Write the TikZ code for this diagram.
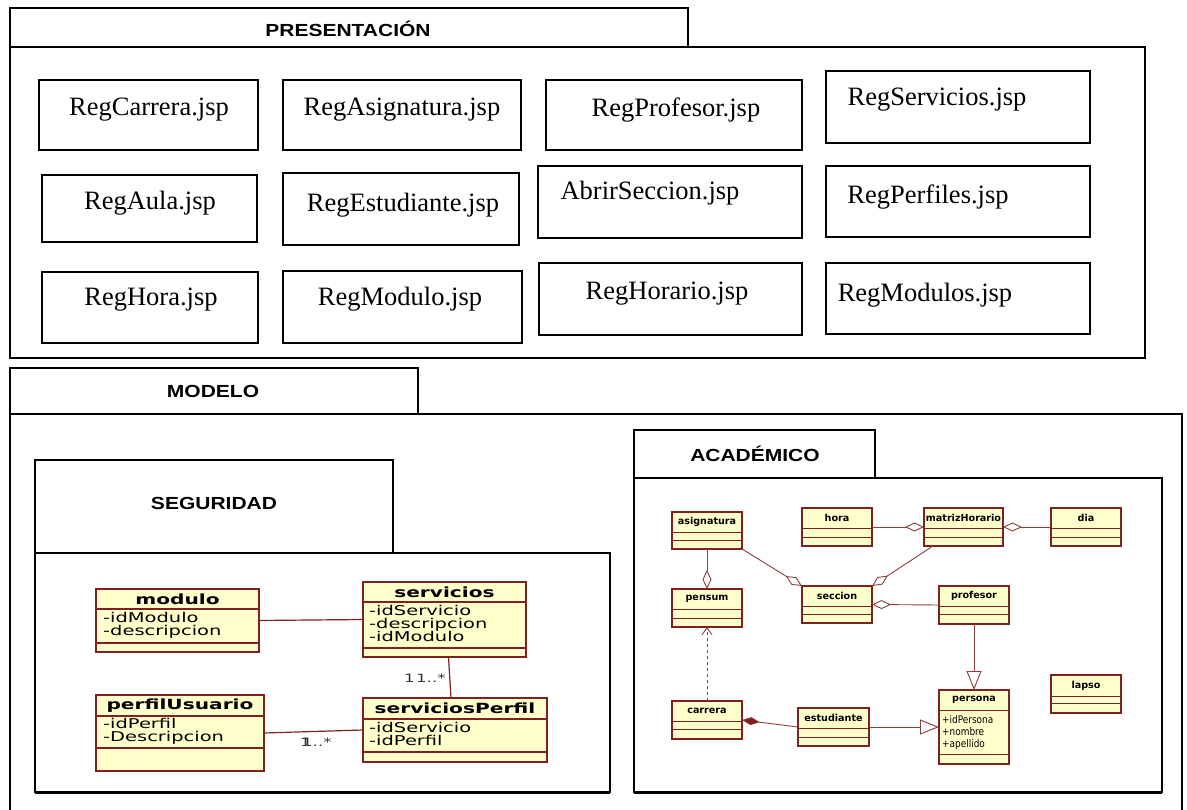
\documentclass[tikz,border=0pt]{standalone}
\usepackage{fontspec}
\setmainfont{Liberation Serif}
\newfontfamily\headfont[FakeStretch=1.2]{Liberation Sans}
\newfontfamily\segfont[FakeStretch=1.44]{DejaVu Sans}
\newfontfamily\acafont{DejaVu Sans}
\newfontfamily\acaattrfont[FakeStretch=0.85]{DejaVu Sans}
\usetikzlibrary{arrows.meta}

\definecolor{umlfill}{RGB}{255,255,204}
\definecolor{umledge}{RGB}{128,32,32}
\definecolor{umlwire}{RGB}{140,62,62}

\tikzset{
  pkgframe/.style={draw=black, line width=1.6pt, inner sep=0pt, outer sep=0pt},
  headtext/.style={font=\headfont\bfseries\fontsize{17.5}{20}\selectfont, anchor=base, inner sep=0pt},
  jspbox/.style={draw=black, line width=1.3pt, inner sep=0pt, outer sep=0pt},
  jsptext/.style={font=\fontsize{26.5}{29}\selectfont, anchor=base, inner sep=0pt},
  segbox/.style={draw=umledge, fill=umlfill, line width=1.6pt, inner sep=0pt, outer sep=0pt},
  segsep/.style={draw=umledge, line width=1.3pt},
  segtitle/.style={font=\segfont\bfseries\fontsize{14}{15}\selectfont, inner sep=0pt},
  segattr/.style={font=\segfont\fontsize{13.5}{14}\selectfont, anchor=base west, inner sep=0pt},
  acabox/.style={draw=umledge, fill=umlfill, line width=1.1pt, inner sep=0pt, outer sep=0pt},
  acasep/.style={draw=umledge, line width=0.9pt},
  acatitle/.style={font=\acafont\bfseries\fontsize{9.6}{10}\selectfont, inner sep=0pt},
  acaattr/.style={font=\acaattrfont\fontsize{10.5}{12}\selectfont, anchor=base west, inner sep=0pt},
  mult/.style={font=\segfont\fontsize{11.5}{12}\selectfont, anchor=base west, inner sep=0pt, text=black!80},
  segwire/.style={draw=umledge, line width=1.2pt},
  wire/.style={draw=umlwire, line width=0.9pt},
  agg/.style={wire, -{Diamond[length=19pt, width=9pt, fill=white]}},
  comp/.style={wire, {Diamond[length=18pt, width=8pt, fill=umledge]}-},
  gen/.style={wire, -{Triangle[length=19pt, width=15pt, fill=white]}},
  dep/.style={wire, dashed, -{Straight Barb[length=7pt, width=10pt]}},
}

% box with its top-left and bottom-right corners given in pixels
\newcommand\pbox[6]{%
  \node[#1, minimum width={#5-#3}, minimum height={#6-#4}] (#2) at ({(#3+#5)/2},{(#4+#6)/2}) {};}

% jsp page: name, corners, text position (centre x, baseline), text
\newcommand\jsp[8]{%
  \pbox{jspbox}{#1}{#2}{#3}{#4}{#5}%
  \node[jsptext] (#1-t) at (#6,#7) {#8};}

% UML class: style prefix, name, corners, the two separators, class name
\newcommand\umlclass[9]{%
  \pbox{#1box}{#2}{#3}{#4}{#5}{#6}%
  \draw[#1sep] (#3,#7) -- (#5,#7) (#3,#8) -- (#5,#8);
  \node[#1title] (#2-n) at ({(#3+#5)/2},{(#4+#7)/2}) {#9};}

\begin{document}
\begin{tikzpicture}[x=1pt, y=-1pt]
\useasboundingbox (0,0) rectangle (1187,810);
\clip (0,0) rectangle (1187,810);

% ---------- presentation layer ----------
\pbox{pkgframe}{presTab}{10}{8}{688}{47}
\pbox{pkgframe}{presFrame}{10}{47}{1145}{358}
\node[headtext] (presLbl) at (348,37) {PRESENTACIÓN};

\jsp{carreraJsp}{39}{80}{258}{150}{149}{116}{RegCarrera.jsp}
\jsp{asignaturaJsp}{283}{80}{521}{150}{402}{116}{RegAsignatura.jsp}
\jsp{profesorJsp}{546}{80}{802}{150}{676}{117}{RegProfesor.jsp}
\jsp{serviciosJsp}{826}{71}{1090}{143}{937}{106}{RegServicios.jsp}
\jsp{aulaJsp}{42}{175}{257}{242}{150}{210}{RegAula.jsp}
\jsp{estudianteJsp}{283}{173}{519}{245}{403}{212}{RegEstudiante.jsp}
\jsp{seccionJsp}{538}{166}{802}{238}{650}{200}{AbrirSeccion.jsp}
\jsp{perfilesJsp}{826}{166}{1090}{237}{928}{204}{RegPerfiles.jsp}
\jsp{horaJsp}{42}{272}{258}{343}{151}{306}{RegHora.jsp}
\jsp{moduloJsp}{283}{271}{522}{343}{400}{306}{RegModulo.jsp}
\jsp{horarioJsp}{539}{263}{802}{335}{667}{300}{RegHorario.jsp}
\jsp{modulosJsp}{826}{263}{1090}{334}{925}{302}{RegModulos.jsp}

% ---------- model layer ----------
\pbox{pkgframe}{modTab}{10}{368}{418}{414}
\pbox{pkgframe}{modFrame}{10}{414}{1182}{830}
\node[headtext] (modLbl) at (213,398) {MODELO};

% security package
\pbox{pkgframe}{segTab}{35}{460}{393}{553}
\pbox{pkgframe}{segFrame}{35}{553}{610}{792}
\draw[line width=1.4pt] (segFrame.south west) ++(0,1) -- ++(575,0);
\node[headtext] (segLbl) at (214,509) {SEGURIDAD};

\umlclass{seg}{modulo}{96}{589}{259}{652}{609}{643}{modulo}
\node[segattr] (modulo-a1) at (103,622) {-idModulo};
\node[segattr] (modulo-a2) at (103,635) {-descripcion};

\umlclass{seg}{servicios}{363}{582}{526}{657}{602}{648}{servicios}
\node[segattr] (servicios-a1) at (369,615) {-idServicio};
\node[segattr] (servicios-a2) at (369,628) {-descripcion};
\node[segattr] (servicios-a3) at (369,641) {-idModulo};

\umlclass{seg}{perfilUsuario}{96}{695}{264}{771}{716}{748}{perfilUsuario}
\node[segattr] (perfil-a1) at (103,728) {-idPerfil};
\node[segattr] (perfil-a2) at (103,741) {-Descripcion};

\umlclass{seg}{serviciosPerfil}{363}{698}{547}{762}{719}{752}{serviciosPerfil}
\node[segattr] (sp-a1) at (369,732) {-idServicio};
\node[segattr] (sp-a2) at (369,745) {-idPerfil};

\draw[segwire] (modulo.east) -- (servicios.west);
\draw[segwire] (perfilUsuario.east) -- (serviciosPerfil.west);
\draw[segwire] ([xshift=4pt]servicios.south) -- ([xshift=-4pt]serviciosPerfil.north);
\node[mult] (m1a) at (404,682) {1};
\node[mult] (m1b) at (416,682) {1..*};
\node[mult] (m2a) at (300,746) {1};
\node[mult] (m2b) at (302,746) {1..*};

% academic package
\pbox{pkgframe}{acaTab}{634}{430}{875}{478}
\pbox{pkgframe}{acaFrame}{634}{478}{1162}{792}
\draw[line width=1.4pt] (acaFrame.south west) ++(0,1) -- ++(528,0);
\node[headtext] (acaLbl) at (755,461) {ACADÉMICO};

\umlclass{aca}{asignatura}{672}{512}{742}{549}{532}{540}{asignatura}
\umlclass{aca}{hora}{802}{508}{872}{546}{528}{537}{hora}
\umlclass{aca}{matrizHorario}{924}{508}{1003}{546}{528}{537}{matrizHorario}
\umlclass{aca}{dia}{1051}{508}{1121}{546}{528}{537}{dia}
\umlclass{aca}{pensum}{672}{589}{742}{627}{609}{618}{pensum}
\umlclass{aca}{seccion}{802}{586}{872}{623}{606}{614}{seccion}
\umlclass{aca}{profesor}{939}{586}{1009}{624}{606}{614}{profesor}
\umlclass{aca}{carrera}{672}{701}{742}{739}{721}{729}{carrera}
\umlclass{aca}{estudiante}{798}{708}{869}{746}{728}{737}{estudiante}
\umlclass{aca}{persona}{939}{690}{1009}{764}{710}{754}{persona}
\node[acaattr] (persona-a1) at (942,723) {+idPersona};
\node[acaattr] (persona-a2) at (942,735) {+nombre};
\node[acaattr] (persona-a3) at (942,747) {+apellido};
\umlclass{aca}{lapso}{1051}{675}{1121}{713}{696}{703}{lapso}

\draw[agg] (asignatura.south) -- (pensum.north);
\draw[agg] (asignatura.south east) -- (seccion.north west);
\draw[agg] ([xshift=9pt]matrizHorario.south west) -- (seccion.north east);
\draw[agg] (hora.east) -- (matrizHorario.west);
\draw[agg] (dia.west) -- (matrizHorario.east);
\draw[agg] (profesor.west) -- (seccion.east);
\draw[gen] (profesor.south) -- (persona.north);
\draw[gen] (estudiante.east) -- (persona.west);
\draw[comp] (carrera.east) -- (estudiante.west);
\draw[dep] (carrera.north) -- (pensum.south);
\end{tikzpicture}
\end{document}
